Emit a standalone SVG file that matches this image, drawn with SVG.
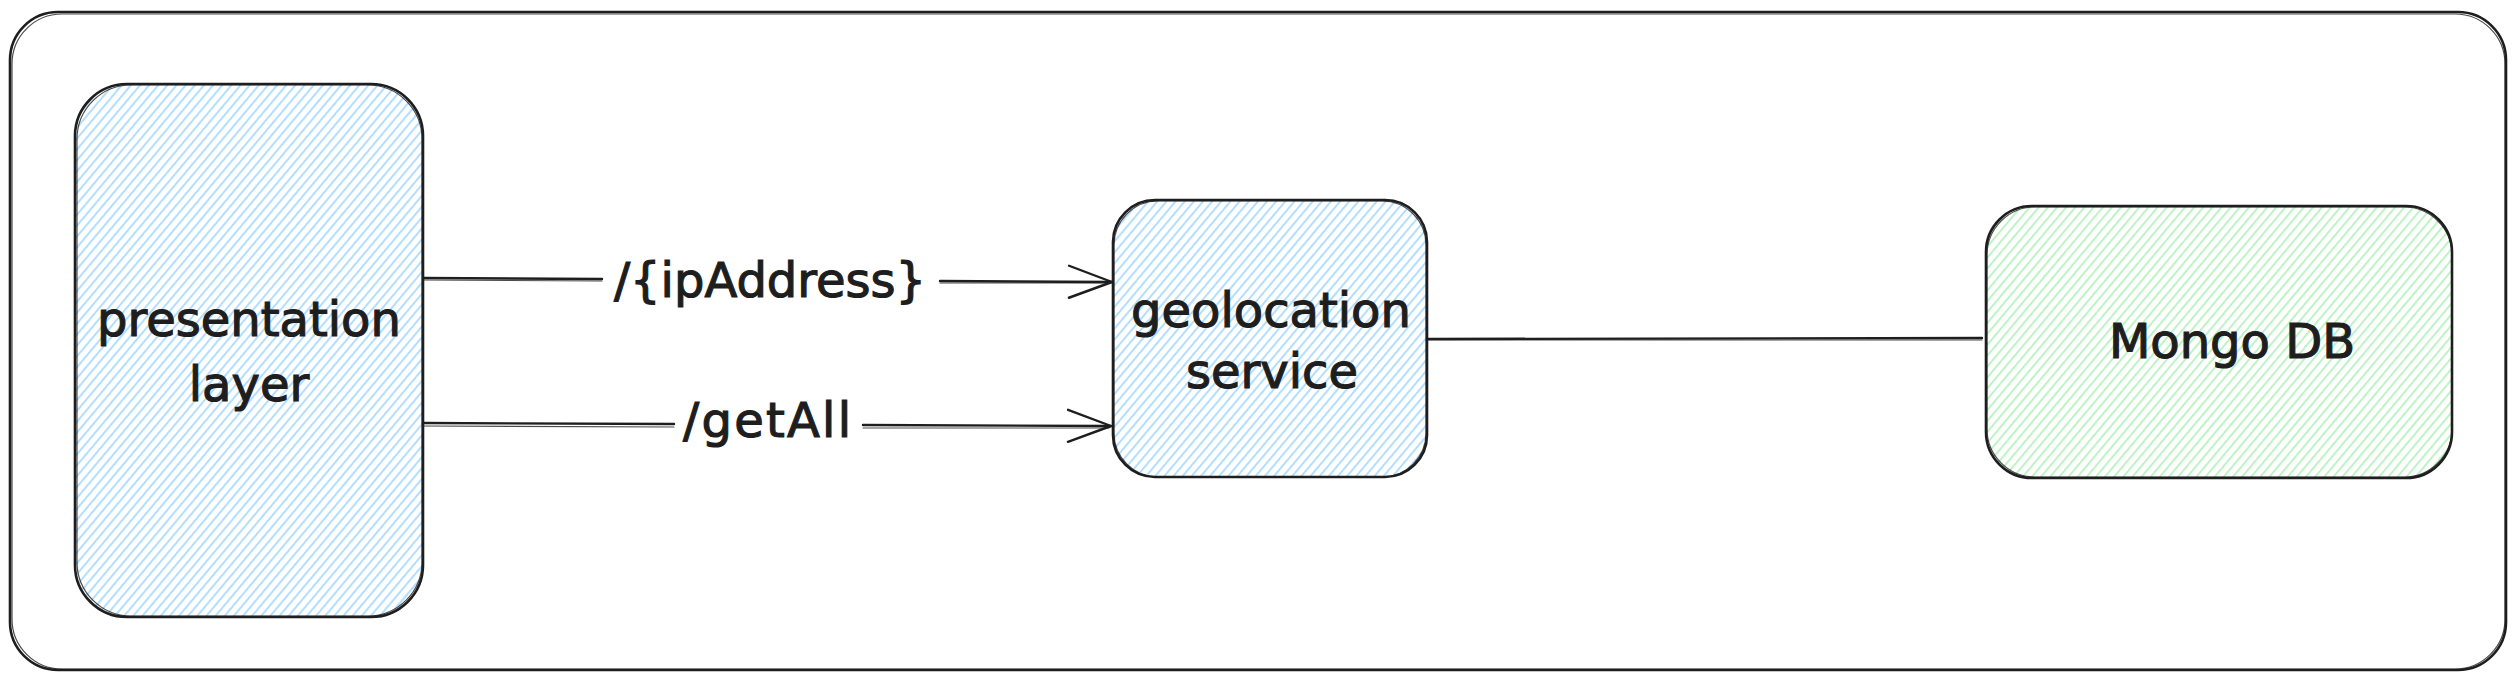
<svg xmlns="http://www.w3.org/2000/svg" width="2514" height="676" viewBox="0 0 2514 676">
  <style>
    .box { stroke: #1e1e1e; stroke-width: 2.6; stroke-linejoin: round; }
    .ghost { fill: none; stroke: #1e1e1e; stroke-width: 1.2; opacity: 0.8; }
    .wire { fill: none; stroke: #1e1e1e; stroke-width: 2.4; stroke-linecap: round; }
    .wire2 { fill: none; stroke: #1e1e1e; stroke-width: 1.1; stroke-linecap: round; opacity: 0.8; }
    .lbl { font-family: "DejaVu Sans", "Noto Sans", sans-serif; font-size: 48px; fill: #1e1e1e; stroke: #1e1e1e; stroke-width: 1.2; text-anchor: middle; }
  </style>
  <defs>
    <pattern id="hatchBlue" patternUnits="userSpaceOnUse" width="7" height="7" patternTransform="rotate(40)">
      <line x1="1" y1="0" x2="1" y2="7" stroke="#a5d8ff" stroke-width="1.7"/>
    </pattern>
    <pattern id="hatchGreen" patternUnits="userSpaceOnUse" width="7" height="7" patternTransform="rotate(40)">
      <line x1="1" y1="0" x2="1" y2="7" stroke="#b2f2bb" stroke-width="1.7"/>
    </pattern>
    <marker id="arrow" markerUnits="userSpaceOnUse" markerWidth="52" markerHeight="40" viewBox="0 0 52 40" refX="47" refY="20" orient="auto">
      <path d="M4,4 L47,20 L4,36" fill="none" stroke="#1e1e1e" stroke-width="2.4" stroke-linecap="round" stroke-linejoin="round"/>
    </marker>
  </defs>
  <rect width="2514" height="676" fill="#ffffff"/>

  <g id="container">
    <rect class="box" x="10" y="12" width="2496" height="658" rx="48" ry="48" fill="none"/>
    <rect class="ghost" x="12" y="14" width="2493" height="655" rx="50" ry="50"/>
  </g>

  <g id="presentation-layer">
    <rect x="75" y="84" width="348" height="533" rx="52" ry="52" fill="url(#hatchBlue)"/>
    <rect class="box" x="75" y="84" width="348" height="533" rx="52" ry="52" fill="none"/>
    <rect class="ghost" x="77" y="85" width="345" height="531" rx="54" ry="54"/>
    <text class="lbl" x="249" y="336">presentation</text>
    <text class="lbl" x="249" y="401">layer</text>
  </g>

  <g id="geolocation-service">
    <rect x="1113" y="200" width="314" height="277" rx="42" ry="42" fill="url(#hatchBlue)"/>
    <rect class="box" x="1113" y="200" width="314" height="277" rx="42" ry="42" fill="none"/>
    <rect class="ghost" x="1114" y="201" width="312" height="276" rx="44" ry="44"/>
    <text class="lbl" x="1271" y="327">geolocation</text>
    <text class="lbl" x="1272" y="388">service</text>
  </g>

  <g id="mongo-db">
    <rect x="1986" y="206" width="466" height="272" rx="46" ry="46" fill="url(#hatchGreen)"/>
    <rect class="box" x="1986" y="206" width="466" height="272" rx="46" ry="46" fill="none"/>
    <rect class="ghost" x="1987" y="207" width="465" height="270" rx="48" ry="48"/>
    <text class="lbl" x="2232" y="358">Mongo DB</text>
  </g>

  <g id="connectors">
    <path class="wire" d="M423,278 L602,279"/>
    <path class="wire2" d="M423,280 L602,281"/>
    <path class="wire" d="M940,281 L1112,282" marker-end="url(#arrow)"/>
    <path class="wire2" d="M940,283 L1110,283"/>
    <text class="lbl" x="770" y="297">/{ipAddress}</text>

    <path class="wire" d="M423,423 L674,424"/>
    <path class="wire2" d="M423,426 L674,427"/>
    <path class="wire" d="M863,425 L1111,426" marker-end="url(#arrow)"/>
    <path class="wire2" d="M863,428 L1109,428"/>
    <text class="lbl" x="767" y="437" textLength="168" lengthAdjust="spacing">/getAll</text>

    <path class="wire" d="M1428,339 L1982,338"/>
    <path class="wire2" d="M1428,340 L1982,340"/>
  </g>
</svg>
